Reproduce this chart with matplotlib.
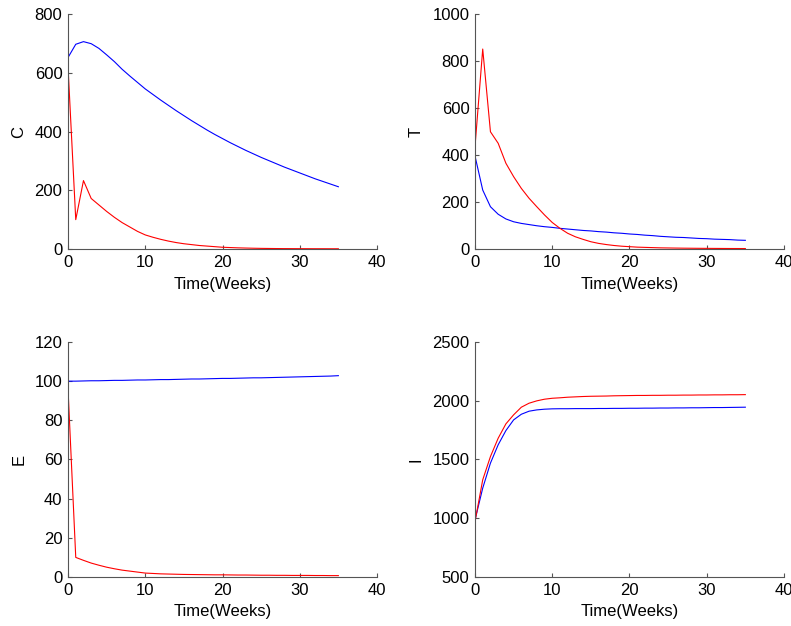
import numpy as np
import matplotlib
matplotlib.use("Agg")
import matplotlib.pyplot as plt

plt.rcParams['font.family'] = ['Liberation Sans', 'DejaVu Sans']

weeks = np.arange(0, 36)

# C compartment
c_blue = [652, 697, 706, 699, 683, 661, 638, 612, 589, 567, 545, 526, 507, 489,
          471, 454, 437, 421, 405, 390, 376, 362, 349, 336, 324, 312, 301, 290,
          279, 269, 259, 249, 239, 230, 221, 212]
c_red = [620, 100, 233, 172, 150, 128, 108, 90, 75, 60, 48, 40, 33, 27, 22, 18,
         15, 12, 10, 8, 6, 5, 4, 3.3, 2.7, 2.2, 1.9, 1.6, 1.4, 1.3, 1.2, 1.1,
         1.0, 1.0, 0.9, 0.9]

# T compartment
t_blue = [396, 251, 180, 148, 128, 116, 109, 104, 99, 95, 92, 88, 85, 82, 79,
          77, 74, 72, 69, 67, 64, 62, 59, 57, 54, 52, 50, 49, 47, 45, 44, 42,
          41, 40, 38, 37]
t_red = [435, 851, 499, 450, 365, 308, 258, 216, 180, 145, 113, 88, 67, 52, 41,
         31, 24, 19, 15, 12, 10, 8, 7, 6, 5, 4.5, 4, 3.6, 3.3, 3, 2.8, 2.6, 2.4,
         2.2, 2.1, 2.0]

# E compartment
e_blue = [100.0, 100.0, 100.1, 100.2, 100.2, 100.3, 100.4, 100.4, 100.5, 100.6,
          100.6, 100.7, 100.8, 100.8, 100.9, 101.0, 101.1, 101.1, 101.2, 101.3,
          101.4, 101.4, 101.5, 101.6, 101.7, 101.7, 101.8, 101.9, 102.0, 102.1,
          102.2, 102.3, 102.4, 102.5, 102.6, 102.8]
e_red = [96, 10, 8.5, 7.1, 6.0, 5.0, 4.2, 3.5, 3.0, 2.5, 2.0, 1.8, 1.6, 1.5,
         1.4, 1.3, 1.25, 1.2, 1.15, 1.1, 1.1, 1.05, 1.0, 1.0, 0.95, 0.9, 0.9,
         0.85, 0.85, 0.8, 0.8, 0.8, 0.75, 0.75, 0.7, 0.7]

# I compartment
i_blue = [985, 1256, 1469, 1625, 1746, 1837, 1885, 1911, 1922, 1928, 1931, 1932,
          1932, 1933, 1933, 1933, 1934, 1934, 1935, 1935, 1936, 1936, 1937, 1937,
          1938, 1938, 1939, 1939, 1940, 1940, 1941, 1942, 1942, 1943, 1944, 1945]
i_red = [970, 1327, 1525, 1681, 1803, 1880, 1945, 1979, 1999, 2013, 2021, 2025,
         2030, 2033, 2036, 2038, 2039, 2040, 2042, 2043, 2044, 2045, 2045, 2046,
         2046, 2047, 2047, 2048, 2048, 2049, 2049, 2050, 2050, 2051, 2051, 2052]

panels = [
    ("C", c_blue, c_red, (0, 800), [0, 200, 400, 600, 800]),
    ("T", t_blue, t_red, (0, 1000), [0, 200, 400, 600, 800, 1000]),
    ("E", e_blue, e_red, (0, 120), [0, 20, 40, 60, 80, 100, 120]),
    ("I", i_blue, i_red, (500, 2500), [500, 1000, 1500, 2000, 2500]),
]

fig = plt.figure(figsize=(7.91, 6.26), dpi=100)
rects = [
    [0.086, 0.6022, 0.3906, 0.3754],
    [0.6005, 0.6022, 0.3906, 0.3754],
    [0.086, 0.0783, 0.3906, 0.3754],
    [0.6005, 0.0783, 0.3906, 0.3754],
]

for rect, (name, blue, red, ylim, yticks) in zip(rects, panels):
    ax = fig.add_axes(rect)
    ax.plot(weeks, blue, color='#0000ff', lw=0.8)
    ax.plot(weeks, red, color='#ff0000', lw=0.8)
    ax.set_xlim(0, 40)
    ax.set_ylim(*ylim)
    ax.set_xticks([0, 10, 20, 30, 40])
    ax.set_yticks(yticks)
    ax.set_xlabel("Time(Weeks)", fontsize=12, labelpad=5)
    ax.set_ylabel(name, fontsize=12, labelpad=6)
    ax.spines['top'].set_visible(False)
    ax.spines['right'].set_visible(False)
    for s in ('left', 'bottom'):
        ax.spines[s].set_color('#555555')
        ax.spines[s].set_linewidth(0.8)
    ax.tick_params(direction='in', length=3, width=0.8, color='#555555',
                   labelsize=12, pad=4)

fig.savefig("out.png", dpi=100)
